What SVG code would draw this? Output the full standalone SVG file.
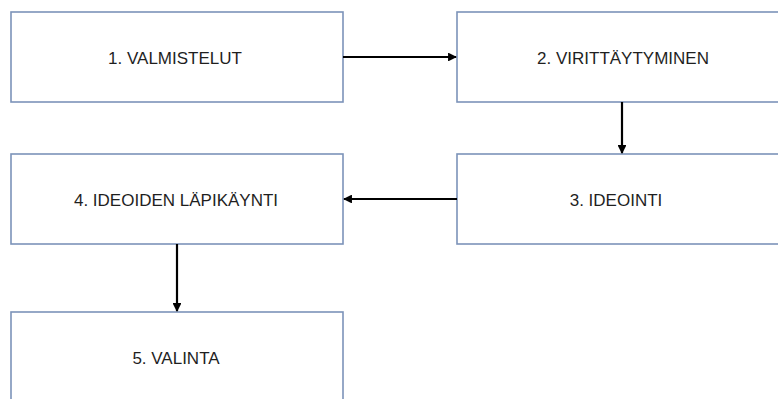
<svg xmlns="http://www.w3.org/2000/svg" width="778" height="399" viewBox="0 0 778 399">
<defs>
<style>
.box{fill:#ffffff;stroke:#7c93b9;stroke-width:1.6}
.lbl{font-family:"Liberation Sans",Arial,sans-serif;font-size:17px;fill:#1f1f1f;text-anchor:middle}
.con{stroke:#000;stroke-width:2.2;fill:none;marker-end:url(#ah)}
</style>
<marker id="ah" viewBox="0 0 10 10" refX="9" refY="5" markerWidth="4" markerHeight="4" orient="auto" markerUnits="strokeWidth">
<path d="M0,0 L10,5 L0,10 z" fill="#000"/>
</marker>
</defs>
<rect width="778" height="399" fill="#ffffff"/>
<g id="n1"><rect class="box" x="11" y="12" width="332" height="90"/><text class="lbl" x="175" y="64">1. VALMISTELUT</text></g>
<g id="n2"><rect class="box" x="457" y="12" width="330" height="90"/><text class="lbl" x="623" y="64">2. VIRITTÄYTYMINEN</text></g>
<g id="n3"><rect class="box" x="457" y="154" width="330" height="90"/><text class="lbl" x="616" y="206">3. IDEOINTI</text></g>
<g id="n4"><rect class="box" x="11" y="154" width="332" height="90"/><text class="lbl" x="176" y="206">4. IDEOIDEN LÄPIKÄYNTI</text></g>
<g id="n5"><rect class="box" x="11" y="312" width="332" height="100"/><text class="lbl" x="176" y="364">5. VALINTA</text></g>
<g id="connectors">
<line class="con" x1="343" y1="57" x2="456" y2="57"/>
<line class="con" x1="622" y1="102" x2="622" y2="153"/>
<line class="con" x1="457" y1="199" x2="344" y2="199"/>
<line class="con" x1="177" y1="244" x2="177" y2="311"/>
</g>
</svg>
